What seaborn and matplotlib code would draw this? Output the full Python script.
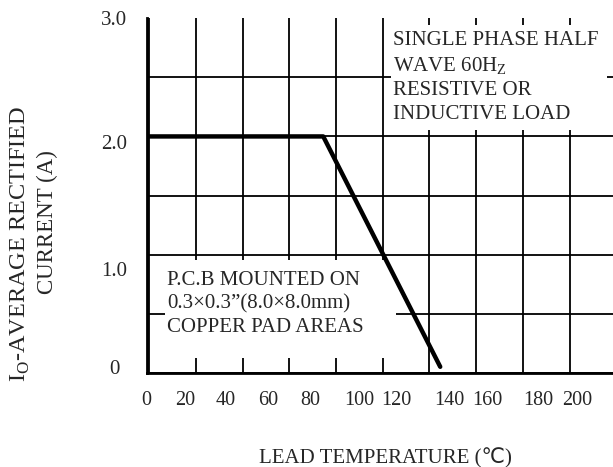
import numpy as np
import matplotlib
matplotlib.use("Agg")
import matplotlib.pyplot as plt
import seaborn as sns
import pandas as pd
from matplotlib.patches import Rectangle

# derating curve (in grid units, grid line every 20)
temp = [0, 74.5, 124.6]
current = [2.0, 2.0, 0.05]

# tick labels and where they sit on the printed chart
xtick_labels = ["0", "20", "40", "60", "80", "100", "120", "140", "160", "180", "200"]
xtick_pos = [-1.1, 15.3, 32.9, 51.1, 69.1, 90.0, 105.7, 128.3, 144.9, 166.6, 183.3]
ytick_labels = ["0", "1.0", "2.0", "3.0"]
ytick_pos = [0.05, 0.88, 1.95, 3.0]

note_top = "SINGLE PHASE HALF\nWAVE 60H$_\\mathrm{Z}$\nRESISTIVE OR\nINDUCTIVE LOAD"
note_bottom = "P.C.B MOUNTED ON\n0.3\u00d70.3\u201d(8.0\u00d78.0mm)\nCOPPER PAD AREAS"

sns.set_style("white")
plt.rcParams["font.family"] = ["Liberation Serif", "DejaVu Sans"]
plt.rcParams["mathtext.fontset"] = "custom"
plt.rcParams["mathtext.rm"] = "Liberation Serif"

fig = plt.figure(figsize=(6.13, 4.67), dpi=100)
ax = fig.add_axes([146.7 / 613, 94.3 / 467, 469.6 / 613, 354.4 / 467])

df = pd.DataFrame({"temp": temp, "current": current})
sns.lineplot(data=df, x="temp", y="current", color="black", linewidth=3.2, ax=ax, zorder=4)

ax.set_xlim(0, 200)
ax.set_ylim(0, 3)
ax.set_xticks(np.arange(0, 201, 20), minor=True)
ax.set_yticks(np.arange(0, 3.01, 0.5), minor=True)
ax.grid(which="minor", color="black", linewidth=1.3, zorder=0.5)
ax.grid(which="major", visible=False)
ax.set_axisbelow(True)

ax.set_xticks(xtick_pos, xtick_labels, fontsize=14.5)
ax.set_yticks(ytick_pos, ytick_labels, fontsize=15)
ax.tick_params(which="both", length=0)
ax.tick_params(axis="x", pad=13)
ax.tick_params(axis="y", pad=23.5)
for t in ax.get_yticklabels():
    t.set_horizontalalignment("center")
ax.set_xlabel("")
ax.set_ylabel("")

for side in ["top", "right"]:
    ax.spines[side].set_visible(False)
ax.spines["left"].set_linewidth(2)
ax.spines["bottom"].set_linewidth(2)
ax.spines["left"].set_color("black")
ax.spines["bottom"].set_color("black")

# white boxes behind the notes
ax.add_patch(Rectangle((103.6, 2.055), 92.4, 0.889, facecolor="white", edgecolor="none", zorder=1))
ax.add_patch(Rectangle((6.9, 0.124), 98.8, 0.83, facecolor="white", edgecolor="none", zorder=1))

ax.text(104.5, 2.89, note_top, fontsize=15, va="top", ha="left", linespacing=1.31, zorder=5)
ax.text(7.6, 0.86, note_bottom, fontsize=15, va="top", ha="left", linespacing=1.31, zorder=5)

fig.text(20 / 613, 1 - 244 / 467, "I$_\\mathrm{O}$-AVERAGE RECTIFIED", rotation=90,
         ha="center", va="center", fontsize=17.5)
fig.text(47 / 613, 1 - 222 / 467, "CURRENT (A)", rotation=90,
         ha="center", va="center", fontsize=16.5)
fig.text(385 / 613, 1 - 458 / 467, "LEAD TEMPERATURE (\u2103)", ha="center", va="center", fontsize=15)

fig.savefig("out.png", dpi=100)
